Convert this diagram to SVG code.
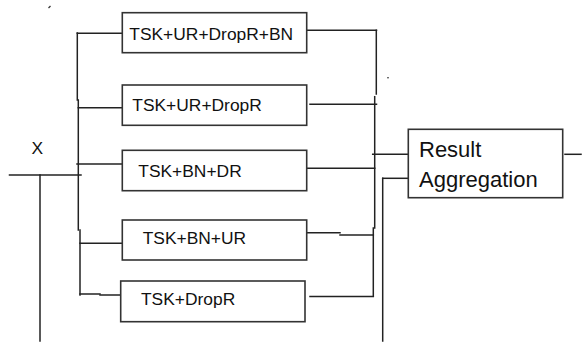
<svg xmlns="http://www.w3.org/2000/svg" width="582" height="342" viewBox="0 0 582 342">
<style>
.ln{stroke:#222;stroke-width:1.5;fill:none;stroke-linecap:square}
.bx{fill:#fff;stroke:#333;stroke-width:1.6}
.t{font-family:"Liberation Sans",Arial,sans-serif;font-size:17.4px;fill:#111}
.r{font-family:"Liberation Sans",Arial,sans-serif;font-size:22px;fill:#111}
</style>
<rect width="582" height="342" fill="#fff"/>
<g id="connectors">
<line class="ln" x1="9.5" y1="175" x2="81" y2="175"/>
<line class="ln" x1="40" y1="175" x2="40" y2="341"/>
<line class="ln" x1="77.3" y1="33" x2="77.3" y2="100"/>
<line class="ln" x1="78.3" y1="100" x2="78.3" y2="230"/>
<line class="ln" x1="80" y1="230" x2="80" y2="295"/>
<line class="ln" x1="77.3" y1="33.3" x2="122" y2="33.3"/>
<line class="ln" x1="78.3" y1="107.7" x2="122" y2="107.7"/>
<line class="ln" x1="77" y1="164" x2="122" y2="164"/>
<line class="ln" x1="80" y1="243.3" x2="122" y2="243.3"/>
<line class="ln" x1="80" y1="294" x2="100" y2="294"/>
<line class="ln" x1="100" y1="295" x2="120.7" y2="295"/>
<line class="ln" x1="303" y1="30.3" x2="376.5" y2="30.3"/>
<line class="ln" x1="376.3" y1="30.3" x2="376.3" y2="94"/>
<line class="ln" x1="310" y1="104.3" x2="376.5" y2="104.3"/>
<line class="ln" x1="374.7" y1="96.7" x2="374.7" y2="228"/>
<line class="ln" x1="306.7" y1="168.3" x2="374.7" y2="168.3"/>
<line class="ln" x1="306.7" y1="232.7" x2="340" y2="232.7"/>
<line class="ln" x1="340" y1="235" x2="373.3" y2="235"/>
<line class="ln" x1="373.3" y1="228" x2="373.3" y2="296"/>
<line class="ln" x1="310" y1="296.5" x2="373.3" y2="296.5"/>
<line class="ln" x1="372.7" y1="154.3" x2="408.3" y2="154.3"/>
<line class="ln" x1="382.7" y1="178.3" x2="408.3" y2="178.3"/>
<line class="ln" x1="382.7" y1="178.3" x2="382.7" y2="341"/>
<line class="ln" x1="565" y1="154.3" x2="581" y2="154.3"/>
<line x1="48.5" y1="8" x2="50.5" y2="6" stroke="#333" stroke-width="1.2"/>
<rect x="387.3" y="77" width="1.4" height="1.4" fill="#333"/>
</g>
<g id="node1">
<rect class="bx" x="122.3" y="12.7" width="184.4" height="40"/>
<text class="t" x="129.3" y="40">TSK+UR+DropR+BN</text>
</g>
<g id="node2">
<rect class="bx" x="122.3" y="85" width="184.4" height="40.3"/>
<text class="t" x="132.3" y="110.5">TSK+UR+DropR</text>
</g>
<g id="node3">
<rect class="bx" x="122.3" y="150.3" width="184.4" height="40.4"/>
<text class="t" x="138.3" y="176.7">TSK+BN+DR</text>
</g>
<g id="node4">
<rect class="bx" x="122.3" y="220" width="184.4" height="40"/>
<text class="t" x="142.7" y="243.5">TSK+BN+UR</text>
</g>
<g id="node5">
<rect class="bx" x="120.7" y="281" width="184.3" height="40.7"/>
<text class="t" x="141" y="305">TSK+DropR</text>
</g>
<g id="result">
<rect class="bx" x="408.3" y="129.3" width="154.4" height="68.4"/>
<text class="r" x="419" y="157">Result</text>
<text class="r" x="419" y="186.5">Aggregation</text>
</g>
<g id="label-x">
<text class="t" x="31.5" y="154">X</text>
</g>
</svg>
